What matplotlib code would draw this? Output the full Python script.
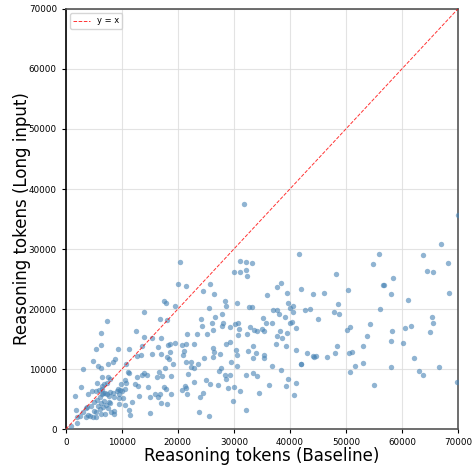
import matplotlib
matplotlib.use("Agg")
import matplotlib.pyplot as plt
import numpy as np

# token counts, (baseline, long input)
baseline = [
    67030, 63810, 68220, 64470, 65540, 58460, 56790, 58100, 68340, 61030,
    65310, 65490, 65010, 58280, 60600, 61560, 58100, 60190, 62100, 58100,
    66670, 62990, 63760, 69890, 70000,
    55840, 54830, 56670, 48160, 46070, 50360, 48520, 47860, 48810, 56020,
    44950, 54290, 50720, 50240, 53760, 53040, 48400, 47990, 50490, 51020,
    46670, 44590, 52990, 51560, 50670, 55060,
    41670, 32150, 33220, 32150, 32270, 38400, 37620, 42020, 39470, 44110,
    35840, 39650, 40540, 32620, 33160, 37020, 37620, 39950, 40540, 42620,
    43640, 38040, 39050, 35130, 35720, 36790, 40000, 40300, 32860, 33630,
    34110, 35000, 35360, 41070, 38270, 39470, 37680, 38520, 32270, 33450,
    37560, 39230, 32440, 33930, 33450, 35300, 35360, 41070, 42980, 44110,
    44350, 41960, 42020, 36790, 38450, 32150, 33450, 34050, 39700, 41010,
    36190, 39350, 34400, 40650, 32150,
    31730, 31130, 29940, 31070, 21490, 25660, 24520, 26370, 25540, 28340,
    28570, 30480, 24110, 26670, 27860, 26130, 28040, 24230, 27800, 29340,
    30240, 30710, 30950, 26310, 21670, 23390, 25180, 30770, 21430, 22800,
    29220, 28510, 26250, 26430, 26190, 27440, 24700, 30360, 30540, 29400,
    21430, 22270, 22320, 22860, 23510, 30600, 27740, 27260, 21850, 28390,
    29340, 24940, 22920, 25710, 27080, 28510, 28930, 30060, 31070, 21430,
    21550, 24460, 23990, 29760, 23690, 25540,
    20360, 20000, 17560, 17920, 19470, 13930, 16790, 18100, 12500, 13930,
    15360, 17020, 11310, 13570, 16490, 18270, 18630, 19520, 20710, 21130,
    15420, 16900, 18630, 18100, 18330, 12680, 13340, 20950, 19050, 10710,
    11070, 11310, 13630, 14520, 13990, 12680, 16250, 16550, 17740, 17140,
    18690, 17500, 17920, 18690, 20710, 21310, 10710, 12380, 12860, 13040,
    14640, 15000, 15830, 16490, 16730, 17020, 17980, 11730, 11190, 11370,
    14940,
    7380, 6250, 6250, 5420, 9290, 4880, 5770, 6250, 7500, 8450,
    8750, 3040, 2680, 1610, 1790, 2020, 2440, 3040, 3630, 3810,
    1000, 4350, 4820, 5360, 6310, 5420, 5000, 6010, 6610, 5660,
    6310, 6790, 5480, 4940, 4520, 6010, 6370, 5300, 5830, 6370,
    6670, 6900, 7260, 7620, 7140, 7440, 8040, 8570, 7920, 8510,
    8390, 9050, 9290, 9700, 10060, 10540, 9410, 10120, 9530, 8510,
    7020, 3630, 3930, 10480, 9880, 10480, 6790, 7860, 7320, 4640,
    5600, 7560, 6430, 6490, 3990, 9530, 7860, 7680, 2000,
]
long_input = [
    30790, 29000, 27670, 26330, 26110, 25110, 24000, 22500, 22720, 21500,
    18670, 17720, 16110, 16390, 16890, 17110, 14670, 14330, 11780, 10330,
    10330, 9720, 8950, 7830, 35700,
    29110, 27500, 24000, 25830, 22610, 23110, 20830, 19440, 19110, 19940,
    18280, 17440, 17000, 16500, 15500, 13890, 13890, 12720, 12720, 12890,
    12000, 12220, 11000, 10440, 9440, 7330,
    29220, 27780, 27610, 26450, 25560, 24390, 23610, 23390, 22610, 22450,
    22330, 20950, 20450, 20330, 20390, 19890, 19890, 20110, 19560, 19780,
    20000, 19220, 18670, 18500, 17610, 17610, 17610, 17780, 16950, 16500,
    16390, 16670, 16280, 16890, 16390, 16000, 15560, 15220, 15830, 13830,
    14170, 13830, 13000, 12670, 11830, 12330, 11830, 13110, 12720, 12220,
    11940, 10890, 10780, 10440, 9890, 9000, 9330, 8780, 8330, 7720,
    7390, 7170, 6000, 5670, 3220,
    37450, 28000, 26170, 26170, 23830, 24220, 23060, 22500, 20220, 21330,
    20450, 20950, 18390, 18720, 19110, 17720, 17720, 17170, 17170, 17050,
    17440, 17610, 16610, 16500, 15830, 15780, 15830, 15720, 14110, 14170,
    14500, 14110, 13440, 12890, 12060, 12440, 11780, 13110, 12330, 11110,
    11110, 11110, 10390, 10110, 10780, 10440, 10110, 9720, 9170, 9000,
    9000, 8220, 7890, 7560, 7330, 8390, 6890, 7060, 6390, 6890,
    5780, 6060, 5390, 4610, 2780, 2110,
    27780, 24110, 21390, 20950, 20560, 19560, 18280, 18110, 16330, 15330,
    15220, 15220, 13390, 13890, 13610, 14000, 14110, 14330, 14050, 13050,
    12440, 12550, 12780, 11940, 11670, 12110, 12280, 12330, 10830, 10890,
    9560, 9390, 9060, 9060, 9390, 8610, 8670, 9500, 10170, 8830,
    8890, 7060, 6720, 5830, 6440, 7110, 7670, 7440, 7170, 5500,
    7060, 5390, 5830, 5280, 5830, 4390, 4110, 4440, 3220, 2280,
    2720,
    18060, 16060, 14050, 13390, 13280, 11390, 10500, 10220, 10830, 11220,
    11610, 10060, 6940, 5440, 3110, 1940, 2220, 2890, 3440, 3720,
    500, 2110, 1940, 1940, 2500, 2780, 3060, 3280, 3610, 3890,
    4280, 4670, 4830, 4440, 3890, 5280, 5830, 6280, 6500, 6610,
    5940, 6060, 5830, 5500, 4000, 3440, 2890, 3060, 4390, 5280,
    6000, 6390, 6610, 6560, 6280, 6610, 5780, 5110, 4220, 2560,
    2500, 1940, 2330, 4000, 7500, 8170, 7560, 8280, 7720, 6330,
    7610, 8720, 8720, 7220, 5830, 5110, 6170, 4440, 1000,
]

axis_max = 70000
ticks = list(range(0, 70001, 10000))

fig = plt.figure(figsize=(4.74, 4.70), dpi=100)
ax = fig.add_axes([0.139, 0.087, 0.827, 0.894])

ax.scatter(baseline, long_input, s=15, color="steelblue", alpha=0.6, linewidths=0, zorder=3)
ax.plot([0, axis_max], [0, axis_max], "r--", linewidth=0.7, alpha=0.8, label="y = x", zorder=4)

ax.set_xlim(0, axis_max)
ax.set_ylim(0, axis_max)
ax.set_xticks(ticks)
ax.set_yticks(ticks)
ax.tick_params(labelsize=6.3, length=3, width=0.8)
ax.grid(True, color="#dddddd", linewidth=0.8, alpha=0.8, zorder=0)

for side in ["top", "right", "bottom"]:
    ax.spines[side].set_color("#555555")
    ax.spines[side].set_linewidth(1.2)
ax.spines["left"].set_color("black")
ax.spines["left"].set_linewidth(1.2)

ax.set_xlabel("Reasoning tokens (Baseline)", fontsize=12)
ax.set_ylabel("Reasoning tokens (Long input)", fontsize=12)
ax.xaxis.set_label_coords(0.5, -0.042)
ax.yaxis.set_label_coords(-0.088, 0.5)
ax.legend(loc="upper left", fontsize=6)

fig.savefig("out.png", dpi=100)
